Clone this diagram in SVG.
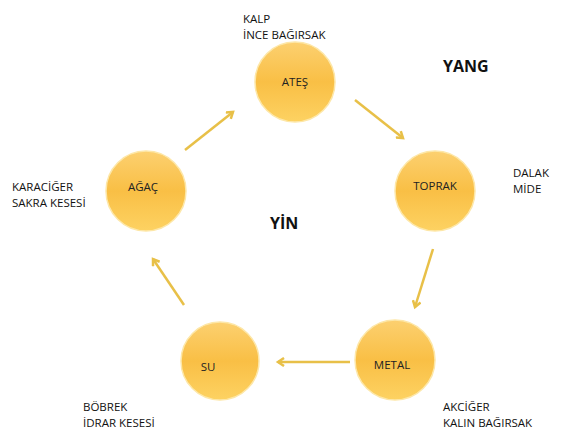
<svg xmlns="http://www.w3.org/2000/svg" width="572" height="445" viewBox="0 0 572 445">
<style>
.c{fill:url(#g);stroke:#fde7a8;stroke-width:1.5}
.t{font-family:"Open Sans","Liberation Sans",sans-serif;font-size:11.5px;fill:#111}
.n{font-family:"Open Sans","Liberation Sans",sans-serif;font-size:11.5px;fill:#222;text-anchor:middle}
.b{font-family:"Open Sans","Liberation Sans",sans-serif;font-size:16px;font-weight:bold;fill:#111}
.a{stroke:#e8c048;stroke-width:2.5;fill:none;marker-end:url(#m)}
</style>
<defs>
<linearGradient id="g" x1="0" y1="0" x2="0" y2="1">
<stop offset="0" stop-color="#fcd070"/>
<stop offset="0.5" stop-color="#f9bf45"/>
<stop offset="1" stop-color="#fdd262"/>
</linearGradient>
<marker id="m" markerWidth="10" markerHeight="10" refX="7" refY="5" orient="auto" markerUnits="userSpaceOnUse">
<path d="M1,1 L7,5 L1,9" fill="none" stroke="#e8c048" stroke-width="2.5"/>
</marker>
</defs>
<rect width="572" height="445" fill="#fff"/>
<g id="connectors">
<line class="a" x1="185" y1="150" x2="233" y2="112"/>
<line class="a" x1="355" y1="100" x2="403" y2="138"/>
<line class="a" x1="433" y1="249" x2="415" y2="307"/>
<line class="a" x1="350" y1="362" x2="278" y2="362"/>
<line class="a" x1="184" y1="305" x2="153" y2="259"/>
</g>
<g id="ates"><circle class="c" cx="295" cy="82" r="40"/><text class="n" x="295" y="86">ATEŞ</text></g>
<g id="toprak"><circle class="c" cx="435" cy="191" r="40"/><text class="n" x="435" y="190">TOPRAK</text></g>
<g id="agac"><circle class="c" cx="146" cy="191" r="40"/><text class="n" x="143" y="191">AĞAÇ</text></g>
<g id="su"><circle class="c" cx="220" cy="361" r="39"/><text class="n" x="208" y="371">SU</text></g>
<g id="metal"><circle class="c" cx="395" cy="360" r="40"/><text class="n" x="392" y="369">METAL</text></g>
<text class="t" x="243" y="23">KALP</text>
<text class="t" x="243" y="39">İNCE BAĞIRSAK</text>
<text class="b" x="443" y="72">YANG</text>
<text class="b" x="270" y="229">YİN</text>
<text class="t" x="513" y="177">DALAK</text>
<text class="t" x="513" y="193">MİDE</text>
<text class="t" x="12" y="191">KARACİĞER</text>
<text class="t" x="12" y="207">SAKRA KESESİ</text>
<text class="t" x="83" y="411">BÖBREK</text>
<text class="t" x="83" y="427">İDRAR KESESİ</text>
<text class="t" x="443" y="411">AKCİĞER</text>
<text class="t" x="443" y="427">KALIN BAĞIRSAK</text>
</svg>
